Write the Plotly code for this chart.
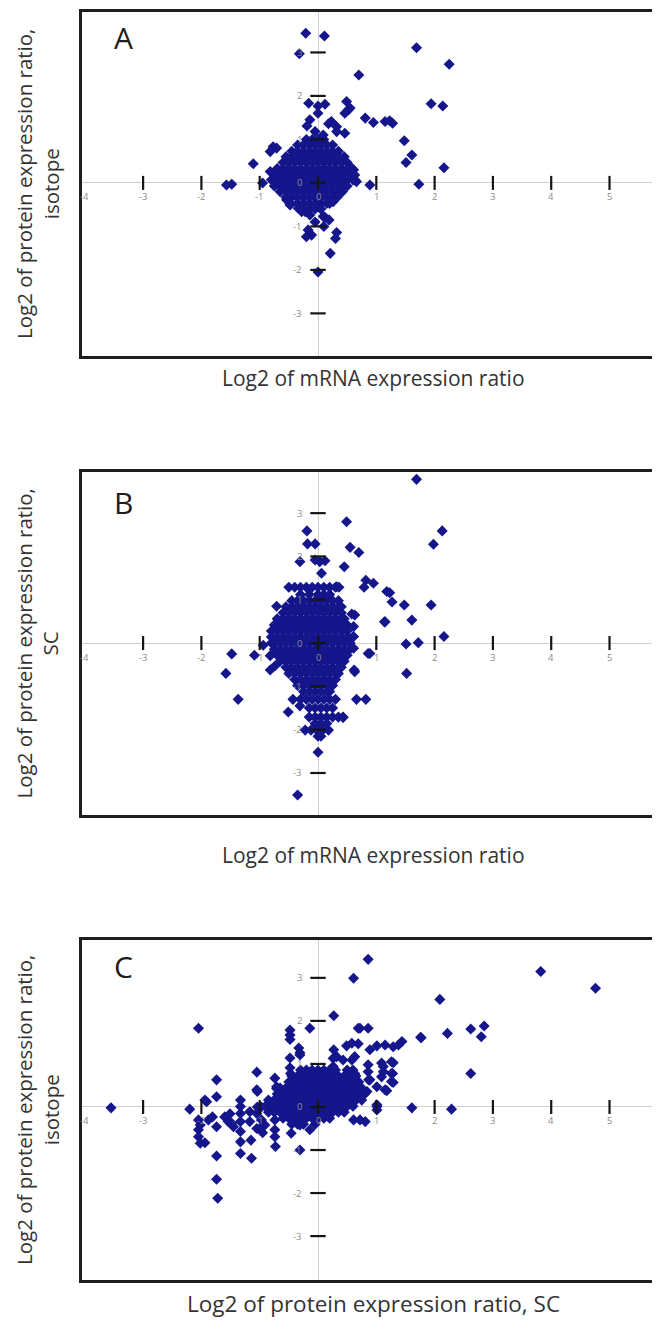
import plotly.graph_objects as go

# ---------------- data ----------------
# Panel A : x = log2 mRNA ratio, y = log2 protein ratio (isotope)
a_core_rows = {
    1.00: [-0.2, -0.1, 0.0, 0.1],
    0.87: [-0.35, -0.25, -0.15, -0.05, 0.05, 0.15, 0.25],
    0.73: [-0.45, -0.35, -0.25, -0.15, -0.05, 0.05, 0.15, 0.25, 0.35],
    0.60: [-0.55, -0.45, -0.35, -0.25, -0.15, -0.05, 0.05, 0.15, 0.25, 0.35, 0.45],
    0.47: [-0.6, -0.5, -0.4, -0.3, -0.2, -0.1, 0.0, 0.1, 0.2, 0.3, 0.4, 0.5],
    0.33: [-0.7, -0.6, -0.5, -0.4, -0.3, -0.2, -0.1, 0.0, 0.1, 0.2, 0.3, 0.4, 0.5, 0.55],
    0.20: [-0.75, -0.65, -0.55, -0.45, -0.35, -0.25, -0.15, -0.05, 0.05, 0.15, 0.25, 0.35, 0.45, 0.55],
    0.07: [-0.8, -0.7, -0.6, -0.5, -0.4, -0.3, -0.2, -0.1, 0.0, 0.1, 0.2, 0.3, 0.4, 0.5, 0.6],
    -0.07: [-0.75, -0.65, -0.55, -0.45, -0.35, -0.25, -0.15, -0.05, 0.05, 0.15, 0.25, 0.35, 0.45, 0.5],
    -0.20: [-0.65, -0.55, -0.45, -0.35, -0.25, -0.15, -0.05, 0.05, 0.15, 0.25, 0.35, 0.42],
    -0.33: [-0.55, -0.45, -0.35, -0.25, -0.15, -0.05, 0.05, 0.15, 0.25, 0.33],
    -0.47: [-0.35, -0.25, -0.15, -0.05, 0.05, 0.15, 0.2],
    -0.60: [-0.25, -0.15, -0.05, 0.05],
}
a_points = [
    (-0.21, 3.44), (0.11, 3.38), (-0.32, 2.97), (0.70, 2.48), (1.69, 3.11), (2.25, 2.73),
    (-0.16, 1.83), (0.0, 1.77), (0.12, 1.81), (0.49, 1.87), (0.52, 1.68), (0.46, 1.60), (0.55, 1.72),
    (0.81, 1.49), (0.95, 1.39), (1.15, 1.41), (1.23, 1.43), (1.28, 1.37), (1.94, 1.82), (2.14, 1.77),
    (0.0, 1.60), (-0.14, 1.45), (-0.19, 1.31), (0.18, 1.36), (0.23, 1.41), (0.32, 1.29), (0.46, 1.14),
    (0.32, 1.18), (-0.05, 1.18), (0.09, 1.10),
    (1.48, 0.97), (1.61, 0.64), (1.51, 0.47), (2.16, 0.35), (1.73, -0.03), (0.89, -0.05),
    (-0.77, 0.83), (-0.82, 0.72), (-0.71, 0.80), (-1.11, 0.44), (-1.57, -0.05), (-1.48, -0.03),
    (-0.95, 0.0), (-0.82, 0.26),
    (-0.54, -0.39), (-0.48, -0.47), (-0.48, -0.51), (-0.34, -0.58), (-0.28, -0.66), (-0.22, -0.66),
    (-0.14, -0.74), (0.09, -0.77), (0.26, -0.43),
    (0.61, 0.30), (0.63, 0.18), (0.66, 0.03), (0.63, 0.07), (0.58, 0.34),
    (0.21, -1.62), (0.32, -1.14), (-0.17, -1.08), (-0.11, -1.20), (0.12, -0.79), (0.19, -0.85),
    (-0.2, -1.24), (0.1, -1.0), (0.3, -1.28), (0.0, -2.05), (-0.05, -0.9),
]

# Panel B : x = log2 mRNA ratio, y = log2 protein ratio (SC)
b_core_rows = {
    1.29: [-0.5, -0.4, -0.3, -0.2, -0.1, 0.0, 0.1, 0.2, 0.3, 0.36],
    1.12: [-0.3, -0.15, 0.0, 0.1, 0.2],
    0.98: [-0.45, -0.35, -0.25, -0.15, -0.05, 0.05, 0.15, 0.25, 0.35],
    0.84: [-0.55, -0.45, -0.35, -0.25, -0.15, -0.05, 0.05, 0.15, 0.25, 0.35, 0.4],
    0.70: [-0.6, -0.5, -0.4, -0.3, -0.2, -0.1, 0.0, 0.1, 0.2, 0.3, 0.4],
    0.56: [-0.7, -0.6, -0.5, -0.4, -0.3, -0.2, -0.1, 0.0, 0.1, 0.2, 0.3, 0.4, 0.45],
    0.42: [-0.75, -0.65, -0.55, -0.45, -0.35, -0.25, -0.15, -0.05, 0.05, 0.15, 0.25, 0.35, 0.45, 0.5],
    0.28: [-0.8, -0.7, -0.6, -0.5, -0.4, -0.3, -0.2, -0.1, 0.0, 0.1, 0.2, 0.3, 0.4, 0.5],
    0.14: [-0.8, -0.7, -0.6, -0.5, -0.4, -0.3, -0.2, -0.1, 0.0, 0.1, 0.2, 0.3, 0.4, 0.5, 0.6],
    0.00: [-0.8, -0.75, -0.65, -0.55, -0.45, -0.35, -0.25, -0.15, -0.05, 0.05, 0.15, 0.25, 0.35, 0.45, 0.55],
    -0.14: [-0.75, -0.65, -0.55, -0.45, -0.35, -0.25, -0.15, -0.05, 0.05, 0.15, 0.25, 0.35, 0.45, 0.55],
    -0.28: [-0.7, -0.6, -0.5, -0.4, -0.3, -0.2, -0.1, 0.0, 0.1, 0.2, 0.3, 0.4, 0.5],
    -0.42: [-0.65, -0.55, -0.45, -0.35, -0.25, -0.15, -0.05, 0.05, 0.15, 0.25, 0.35, 0.45],
    -0.56: [-0.55, -0.45, -0.35, -0.25, -0.15, -0.05, 0.05, 0.15, 0.25, 0.35, 0.4],
    -0.70: [-0.5, -0.4, -0.3, -0.2, -0.1, 0.0, 0.1, 0.2, 0.3, 0.35],
    -0.84: [-0.4, -0.3, -0.2, -0.1, 0.0, 0.1, 0.2, 0.3],
    -0.98: [-0.35, -0.25, -0.15, -0.05, 0.05, 0.15, 0.25],
    -1.12: [-0.25, -0.15, -0.05, 0.05, 0.15, 0.2],
    -1.30: [-0.3, -0.2, -0.1, 0.0, 0.1, 0.2, 0.3],
    -1.50: [-0.15, -0.05, 0.05, 0.15, 0.25],
    -1.71: [-0.15, -0.05, 0.05, 0.15, 0.25, 0.35, 0.43],
    -1.86: [-0.05, 0.05, 0.15],
    -2.01: [-0.22, -0.12, -0.02, 0.08, 0.18],
    -2.15: [0.0, 0.05],
}
b_points = [
    (0.49, 2.80), (-0.19, 2.59), (-0.18, 2.29), (-0.05, 2.29), (-0.31, 1.88), (-0.05, 1.92),
    (0.03, 1.88), (0.12, 1.90), (0.06, 1.61),
    (0.55, 2.21), (0.70, 2.09), (0.45, 1.76), (0.82, 1.45), (0.95, 1.38), (0.79, 1.29), (1.18, 1.19),
    (1.14, 0.49), (0.63, 0.65), (0.61, 0.38), (0.58, 0.67), (0.61, 0.15), (0.61, -0.12),
    (0.86, -0.24), (0.63, -0.66), (0.66, -1.30), (0.82, -1.30), (-1.48, -0.25), (-1.58, -0.70),
    (-1.37, -1.30), (-1.09, -0.28), (-0.82, -0.29), (-0.82, -0.62), (-0.74, -0.53), (-0.71, 0.85),
    (-0.94, -0.05), (-0.51, -1.59), (-0.43, -1.30), (-0.31, -1.45), (0.0, -2.52), (-0.35, -3.51),
    (0.43, -1.72),
    (1.69, 3.78), (2.13, 2.59), (1.98, 2.28), (1.23, 1.16), (1.27, 0.95), (1.48, 0.88), (1.94, 0.88),
    (1.15, 0.49), (1.61, 0.53), (2.16, 0.15), (1.51, -0.02), (1.72, 0.01), (0.89, -0.24),
    (1.52, -0.70), (0.62, -0.62), (0.32, 1.30),
]

# Panel C : x = log2 protein ratio (SC), y = log2 protein ratio (isotope)
c_core_rows = {
    0.86: [-0.3, -0.2, -0.1, 0.0, 0.1, 0.2, 0.3, 0.5, 0.6],
    0.72: [-0.45, -0.35, -0.25, -0.15, -0.05, 0.05, 0.15, 0.25, 0.35, 0.45, 0.55, 0.65],
    0.58: [-0.5, -0.4, -0.3, -0.2, -0.1, 0.0, 0.1, 0.2, 0.3, 0.4, 0.5, 0.6, 0.7],
    0.44: [-0.65, -0.55, -0.45, -0.35, -0.25, -0.15, -0.05, 0.05, 0.15, 0.25, 0.35, 0.45, 0.55, 0.65, 0.75],
    0.30: [-0.7, -0.6, -0.5, -0.4, -0.3, -0.2, -0.1, 0.0, 0.1, 0.2, 0.3, 0.4, 0.5, 0.6, 0.7, 0.8],
    0.16: [-0.85, -0.75, -0.65, -0.55, -0.45, -0.35, -0.25, -0.15, -0.05, 0.05, 0.15, 0.25, 0.35, 0.45, 0.55, 0.65, 0.75],
    0.02: [-0.9, -0.8, -0.7, -0.6, -0.5, -0.4, -0.3, -0.2, -0.1, 0.0, 0.1, 0.2, 0.3, 0.4, 0.5, 0.6],
    -0.12: [-0.85, -0.75, -0.65, -0.55, -0.45, -0.35, -0.25, -0.15, -0.05, 0.05, 0.15, 0.25, 0.35, 0.45],
    -0.26: [-0.6, -0.5, -0.4, -0.3, -0.2, -0.1, 0.0, 0.1, 0.2],
    -0.40: [-0.45, -0.35, -0.25, -0.05],
}
c_points = [
    (0.86, 3.43), (0.61, 2.99), (0.27, 2.12), (-0.14, 1.83), (-0.48, 1.79), (-0.48, 1.67), (-0.48, 1.57),
    (-2.05, 1.83), (0.69, 1.83), (0.86, 1.83), (1.76, 1.62), (0.49, 1.42), (0.69, 1.47), (0.58, 1.48),
    (0.89, 1.33), (1.01, 1.42), (1.15, 1.44), (1.29, 1.40), (1.38, 1.44), (1.44, 1.52),
    (-0.33, 1.37), (-0.31, 1.21), (-0.31, 1.26), (-0.48, 1.14), (-0.48, 0.91), (-0.47, 0.78),
    (0.27, 1.33), (0.32, 1.17), (0.26, 1.13), (0.26, 0.94), (0.43, 1.09), (0.58, 1.09),
    (-1.74, 0.63), (-1.74, 0.24), (-1.05, 0.81), (-1.05, 0.40), (-1.04, 0.36), (-3.55, -0.02),
    (-2.20, -0.05), (-2.05, -0.30), (-1.88, -0.30), (-1.91, 0.12), (-1.94, 0.16),
    (-2.05, -0.53), (-2.05, -0.69), (-1.94, -0.83), (-2.02, -0.42), (-2.02, -0.84),
    (-1.74, -1.14), (-1.74, -1.68), (-1.72, -2.12), (-1.74, -0.46), (-1.60, -0.23), (-1.54, -0.34),
    (-1.45, -0.46), (-1.81, -0.23), (-1.48, -0.38), (-1.51, -0.16),
    (-1.33, 0.16), (-1.33, 0.01), (-1.33, -0.15), (-1.33, -0.34), (-1.33, -0.57), (-1.33, -0.81),
    (-1.33, -1.08), (-1.17, -0.11), (-1.17, -0.34), (-1.15, -0.77), (-1.14, -1.19),
    (-1.05, -0.15), (-1.05, -0.50), (-1.04, 0.0), (-0.97, 0.0), (-0.97, -0.3), (-0.95, -0.6),
    (-0.97, -0.46), (-0.91, -0.42), (-0.74, -0.30), (-0.74, -0.53), (-0.74, -0.69), (-0.73, -0.92),
    (-0.46, -0.61), (-0.31, -1.00), (-0.14, -0.53), (-0.31, -0.42),
    (0.61, -0.30), (0.72, -0.30), (0.81, -0.34), (1.61, -0.02), (1.01, 0.01), (1.01, 0.05), (1.01, -0.07),
    (-0.74, 0.67), (-0.71, 0.47), (-0.71, 0.43),
    (0.86, 0.98), (0.86, 0.82), (0.89, 0.63), (1.01, 0.47), (1.09, 1.02), (1.12, 0.82), (1.26, 1.05),
    (1.26, 0.78), (1.26, 0.59), (1.15, 0.40), (0.84, 0.36), (0.63, 0.78), (0.63, 1.17),
    (1.12, 0.94), (1.09, 0.70), (1.29, 1.03), (1.28, 0.78), (1.29, 0.57), (1.18, 0.38),
    (3.82, 3.15), (4.76, 2.76), (2.09, 2.50), (2.22, 1.71), (1.77, 1.61), (2.62, 1.81), (2.85, 1.88),
    (2.80, 1.63), (2.62, 0.78), (2.29, -0.05), (0.87, 0.63), (0.72, 1.83),
]

x_tick_values = [-3, -2, -1, 0, 1, 2, 3, 4, 5]
x_tick_labels = ["-4", "-3", "-2", "-1", "0", "1", "2", "3", "4", "5"]
x_label_values = [-4, -3, -2, -1, 0, 1, 2, 3, 4, 5]
y_tick_values = [-3, -2, -1, 0, 1, 2, 3]
y_tick_labels = ["-3", "-2", "-1", "0", "1", "2", "3"]

panel_letters = ["A", "B", "C"]
x_titles = ["Log2 of mRNA expression ratio", "Log2 of mRNA expression ratio",
            "Log2 of protein expression ratio, SC"]
y_titles = ["Log2 of protein expression ratio,<br>isotope", "Log2 of protein expression ratio,<br>SC",
            "Log2 of protein expression ratio,<br>isotope"]

# ---------------- layout geometry ----------------
# the page body has an 8px margin, so figure coordinates = page coordinates - 8
OFF = 8
W, H = 660 - OFF, 1329 - 2 * OFF
L = 82 - OFF
panels_px = [(12, 356), (472, 815), (940, 1280)]   # top, bottom of each box (page px)
y_ranges = [(-3.98, 3.93), (-3.97, 3.95), (-4.02, 3.88)]
x_range = (-4.048, 5.866)
x_title_px = [378, 855, 1303]
x_title_size = [21, 21, 22.5]
letter_px = [38, 502, 966]

MARK = "#15158c"
FONT = "Open Sans, Lato, DejaVu Sans, sans-serif"


def unpack(rows, pts):
    xs, ys = [], []
    for yv, xl in rows.items():
        for xv in xl:
            xs.append(xv)
            ys.append(yv)
    for xv, yv in pts:
        xs.append(xv)
        ys.append(yv)
    return xs, ys


datasets = [unpack(a_core_rows, a_points), unpack(b_core_rows, b_points), unpack(c_core_rows, c_points)]

fig = go.Figure()
annotations = []
layout = dict(
    width=W, height=H, margin=dict(l=L, r=0, t=0, b=0),
    paper_bgcolor="white", plot_bgcolor="white", showlegend=False,
    font=dict(family=FONT),
)


def py(page_y):
    return 1 - (page_y - OFF) / H


def px(page_x):
    return (page_x - OFF - L) / (W - L)


for i in range(3):
    n = "" if i == 0 else str(i + 1)
    xa, ya = "x" + n, "y" + n
    top, bot = panels_px[i]
    layout["xaxis" + n] = dict(
        domain=[0, 1], range=list(x_range), anchor=ya, showgrid=False, showticklabels=False,
        ticks="", zeroline=True, zerolinecolor="#cfcfcf", zerolinewidth=1,
        showline=True, mirror=True, linecolor="#1e1e1e", linewidth=2.5, fixedrange=True,
    )
    layout["yaxis" + n] = dict(
        domain=[py(bot), py(top)], range=list(y_ranges[i]), anchor=xa, showgrid=False,
        showticklabels=False, ticks="", zeroline=True, zerolinecolor="#cfcfcf", zerolinewidth=1,
        showline=True, mirror=False, linecolor="#1e1e1e", linewidth=2.5, fixedrange=True,
    )
    xs, ys = datasets[i]
    fig.add_trace(go.Scatter(
        x=xs, y=ys, mode="markers", xaxis=xa, yaxis=ya,
        marker=dict(symbol="diamond", size=8.5, color=MARK, line=dict(width=0)),
        hoverinfo="skip",
    ))
    # tick marks drawn on the crossing axes
    fig.add_trace(go.Scatter(
        x=x_tick_values, y=[0] * len(x_tick_values), mode="markers", xaxis=xa, yaxis=ya,
        marker=dict(symbol="line-ns", size=10, line=dict(width=2.2, color="#151515")),
        hoverinfo="skip",
    ))
    fig.add_trace(go.Scatter(
        x=[0] * len(y_tick_values), y=y_tick_values, mode="markers", xaxis=xa, yaxis=ya,
        marker=dict(symbol="line-ew", size=11, line=dict(width=2.2, color="#151515")),
        hoverinfo="skip",
    ))
    for xv, lab in zip(x_label_values, x_tick_labels):
        annotations.append(dict(
            x=xv, y=0, xref=xa, yref=ya, text=lab, showarrow=False, yshift=-14,
            font=dict(size=9.5, color="#8c8c8c", family=FONT), xanchor="center", yanchor="middle",
        ))
    for yv, lab in zip(y_tick_values, y_tick_labels):
        annotations.append(dict(
            x=0, y=yv, xref=xa, yref=ya, text=lab, showarrow=False, xshift=-14,
            font=dict(size=9.5, color="#8c8c8c", family=FONT), xanchor="right", yanchor="middle",
        ))
    # panel letter
    annotations.append(dict(
        x=px(123), y=py(letter_px[i]), xref="paper", yref="paper", text=panel_letters[i],
        showarrow=False, font=dict(size=30, color="#1e1e1e", family=FONT),
        xanchor="center", yanchor="middle",
    ))
    # x title
    annotations.append(dict(
        x=px(373), y=py(x_title_px[i]), xref="paper", yref="paper", text=x_titles[i],
        showarrow=False, font=dict(size=x_title_size[i], color="#333333", family=FONT),
        xanchor="center", yanchor="middle",
    ))
    # y title
    annotations.append(dict(
        x=px(37), y=py((top + bot) / 2), xref="paper", yref="paper", text=y_titles[i],
        showarrow=False, textangle=-90, font=dict(size=20.5, color="#333333", family=FONT),
        xanchor="center", yanchor="middle",
    ))

layout["annotations"] = annotations
fig.update_layout(**layout)
fig.write_html("out.html")
